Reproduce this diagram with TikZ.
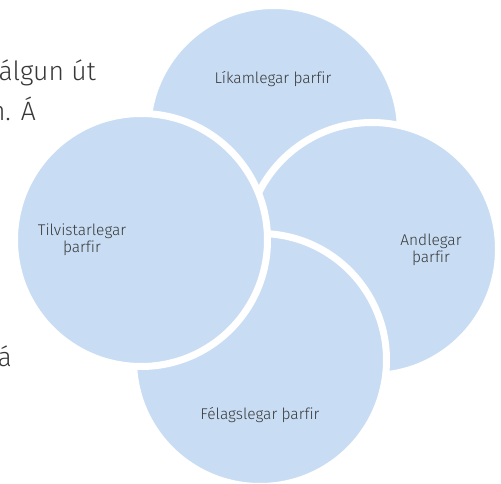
\documentclass[tikz,border=0pt]{standalone}
\usepackage{fontspec}
\setmainfont{Fira Sans Light}[Ligatures=NoCommon]
\definecolor{needfill}{RGB}{200,221,244}
\definecolor{needtext}{RGB}{56,56,56}

\begin{document}
\begin{tikzpicture}[x=1pt,y=-1pt,
  need/.style={circle,fill=needfill,draw=white,line width=7pt,minimum size=253pt,inner sep=0pt},
  needlabel/.style={text=needtext,font=\fontsize{15.5}{17}\selectfont,align=center},
  bgtext/.style={text=needtext,font=\fontsize{26.5}{30}\selectfont,anchor=base east,inner sep=0pt}]
  \useasboundingbox (0,0) rectangle (501,484);
  \clip (0,0) rectangle (501,484);
  % text of the page behind the figure
  \node[bgtext] (line1) at (96,81) {álgun út};
  \node[bgtext] (line2) at (36,121) {n. Á};
  \node[bgtext] (line3) at (12,366) {á};
  % the four needs, back to front
  \node[need] (body) at (274,132) {};
  \node[need] (spirit) at (372,249) {};
  \node[need] (social) at (260,360) {};
  \node[need] (exist) at (141,240) {};
  \node[needlabel] (bodylabel) at (273,79) {Líkamlegar þarfir};
  \node[needlabel] (spiritlabel) at (431,250) {Andlegar\\þarfir};
  \node[needlabel] (sociallabel) at (260,415) {Félagslegar þarfir};
  \node[needlabel] (existlabel) at (82,240) {Tilvistarlegar\\þarfir};
\end{tikzpicture}
\end{document}
